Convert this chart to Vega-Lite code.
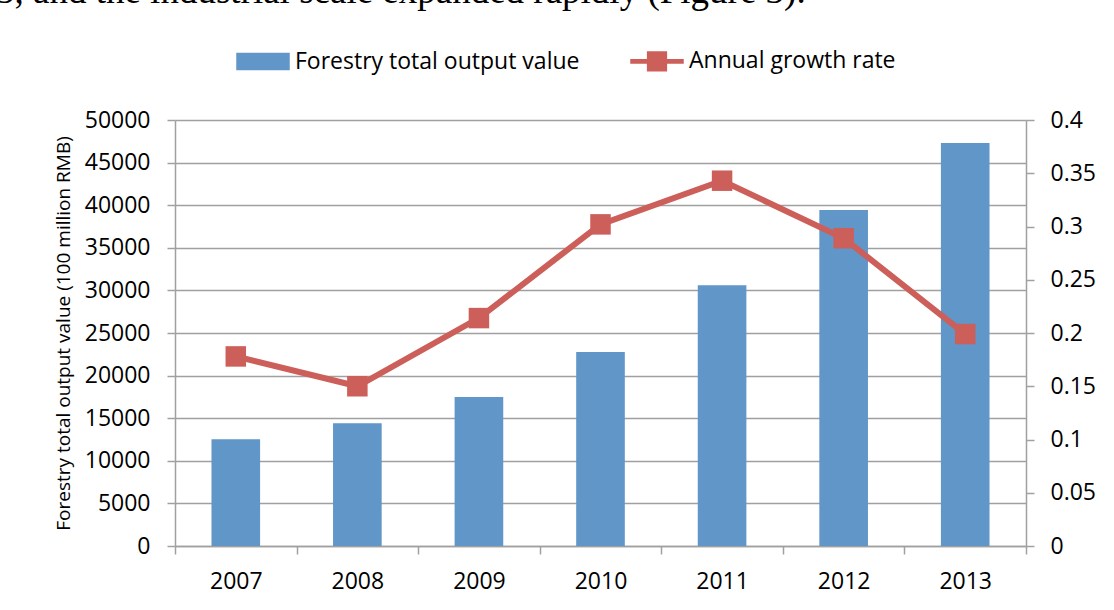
{
  "$schema": "https://vega.github.io/schema/vega-lite/v6.json",
  "width": 851,
  "height": 426,
  "autosize": {"type": "none"},
  "padding": {"left": 175, "top": 120, "right": 88, "bottom": 64},
  "background": "white",
  "title": {
    "text": "3, and the industrial scale expanded rapidly (Figure 3).",
    "anchor": "start",
    "frame": "group",
    "font": "Liberation Serif",
    "fontSize": 37,
    "fontWeight": "normal",
    "color": "black",
    "orient": "top",
    "baseline": "alphabetic",
    "dx": -179,
    "dy": 26,
    "offset": 20
  },
  "data": {
    "values": [
      {"year": "2007", "value": 12533, "rate": 0.178},
      {"year": "2008", "value": 14406, "rate": 0.150},
      {"year": "2009", "value": 17494, "rate": 0.214},
      {"year": "2010", "value": 22779, "rate": 0.302},
      {"year": "2011", "value": 30597, "rate": 0.343},
      {"year": "2012", "value": 39450, "rate": 0.289},
      {"year": "2013", "value": 47315, "rate": 0.199}
    ]
  },
  "encoding": {
    "x": {
      "field": "year",
      "type": "nominal",
      "sort": null,
      "scale": {"paddingInner": 0, "paddingOuter": 0},
      "axis": {
        "title": null,
        "labelAngle": 0,
        "labelFont": "Open Sans",
        "labelFontSize": 23,
        "labelColor": "black",
        "labelPadding": 16,
        "domainColor": "#A0A0A0",
        "domainWidth": 1.5,
        "tickColor": "#A0A0A0",
        "tickWidth": 1.5,
        "tickSize": 8,
        "tickBand": "extent",
        "grid": false
      }
    }
  },
  "layer": [
    {
      "mark": {"type": "bar", "width": {"band": 0.4}},
      "encoding": {
        "y": {
          "field": "value",
          "type": "quantitative",
          "scale": {"domain": [0, 50000], "nice": false},
          "axis": {
            "title": "Forestry total output value (100 million RMB)",
            "titleFont": "Open Sans",
            "titleFontSize": 19,
            "titleFontWeight": "normal",
            "titleColor": "black",
            "titlePadding": 11,
            "values": [0, 5000, 10000, 15000, 20000, 25000, 30000, 35000, 40000, 45000, 50000],
            "format": "d",
            "labelFont": "Open Sans",
            "labelFontSize": 23,
            "labelColor": "black",
            "labelPadding": 17,
            "tickSize": 8,
            "tickColor": "#A0A0A0",
            "tickWidth": 1.5,
            "domainColor": "#A0A0A0",
            "domainWidth": 1.5,
            "grid": true,
            "gridColor": "#A0A0A0",
            "gridWidth": 1.5
          }
        },
        "color": {
          "datum": "Forestry total output value",
          "scale": {
            "domain": ["Forestry total output value", "Annual growth rate"],
            "range": ["#6196C8", "#CD5F5A"]
          },
          "legend": {
            "orient": "none",
            "legendX": 61,
            "legendY": -86,
            "direction": "horizontal",
            "title": null,
            "padding": 0,
            "symbolSize": 2704,
            "labelFont": "Open Sans",
            "labelFontSize": 23,
            "labelColor": "black",
            "labelOffset": 5,
            "labelLimit": 500,
            "columnPadding": 48,
            "encode": {
              "symbols": {
                "update": {
                  "shape": {"signal": "datum.value == 'Annual growth rate' ? 'M-1,-0.06H1V0.06H-1Z M-0.36,-0.36H0.36V0.36H-0.36Z' : 'M-1,-0.31H1V0.31H-1Z'"},
                  "fill": {"scale": "color", "field": "value"},
                  "stroke": {"value": "transparent"},
                  "opacity": {"value": 1}
                }
              }
            }
          }
        }
      }
    },
    {
      "mark": {"type": "line", "strokeWidth": 6},
      "encoding": {
        "y": {
          "field": "rate",
          "type": "quantitative",
          "scale": {"domain": [0, 0.4], "nice": false},
          "axis": {
            "orient": "right",
            "title": null,
            "values": [0, 0.05, 0.1, 0.15, 0.2, 0.25, 0.3, 0.35, 0.4],
            "format": "~g",
            "labelFont": "Open Sans",
            "labelFontSize": 23,
            "labelColor": "black",
            "labelPadding": 16,
            "tickSize": 8,
            "tickColor": "#A0A0A0",
            "tickWidth": 1.5,
            "domainColor": "#A0A0A0",
            "domainWidth": 1.5,
            "grid": false
          }
        },
        "color": {"datum": "Annual growth rate"}
      }
    },
    {
      "mark": {"type": "point", "shape": "square", "filled": true, "size": 420, "opacity": 1},
      "encoding": {
        "y": {"field": "rate", "type": "quantitative", "scale": {"domain": [0, 0.4], "nice": false}, "axis": null},
        "color": {"datum": "Annual growth rate"}
      }
    }
  ],
  "resolve": {"scale": {"y": "independent"}, "axis": {"y": "independent"}},
  "config": {"view": {"stroke": null}}
}
